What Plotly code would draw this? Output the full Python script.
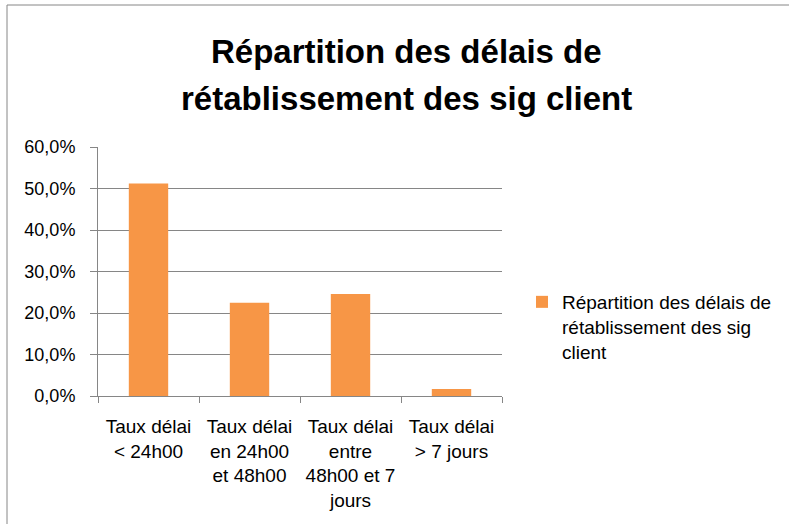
import plotly.graph_objects as go

categories = [
    "Taux délai<br>&lt; 24h00",
    "Taux délai<br>en 24h00<br>et 48h00",
    "Taux délai<br>entre<br>48h00 et 7<br>jours",
    "Taux délai<br>&gt; 7 jours",
]
values = [0.512, 0.225, 0.246, 0.017]
series_name = "Répartition des délais de<br>rétablissement des sig<br>client"
title_lines = ["Répartition des délais de", "rétablissement des sig client"]
y_ticks = [0, 0.1, 0.2, 0.3, 0.4, 0.5, 0.6]

W, H = 789, 524
L, R, T, B = 98, 287, 147, 128
pw, ph = W - L - R, H - T - B

def px_x(p):
    return (p - L) / pw

def px_y(p):
    return (H - B - p) / ph

font_fam = "Liberation Sans, Arial, sans-serif"
grid = "#868686"

fig = go.Figure()
fig.add_trace(go.Bar(
    x=categories, y=values, name=series_name,
    marker=dict(color="#F79646", line=dict(width=0)),
    showlegend=True,
))

title_centers = [52, 98]
annotations = [
    dict(
        text="<b>" + line + "</b>", xref="paper", yref="paper",
        x=px_x(406), y=px_y(cy), xanchor="center", yanchor="middle",
        showarrow=False,
        font=dict(family=font_fam, size=33, color="black"),
    )
    for line, cy in zip(title_lines, title_centers)
]

fig.update_layout(
    width=W, height=H,
    margin=dict(l=L, r=R, t=T, b=B),
    paper_bgcolor="white", plot_bgcolor="white",
    separators=", ",
    bargap=0.61,
    font=dict(family=font_fam, size=18, color="black"),
    annotations=annotations,
    xaxis=dict(
        type="category",
        showline=True, linecolor=grid, linewidth=1,
        ticks="outside", tickson="boundaries", ticklen=6, tickcolor=grid,
        showgrid=False,
        ticklabelstandoff=13,
        tickfont=dict(family=font_fam, size=19, color="black"),
    ),
    yaxis=dict(
        range=[0, 0.6],
        tickvals=y_ticks, tickformat=".1%",
        showline=True, linecolor=grid, linewidth=1,
        ticks="outside", ticklen=7, tickcolor=grid,
        showgrid=True, gridcolor=grid, gridwidth=1,
        zeroline=False,
        ticklabelstandoff=11,
        tickfont=dict(family=font_fam, size=18, color="black"),
    ),
    legend=dict(
        x=px_x(522), y=px_y(283), xanchor="left", yanchor="top",
        valign="top",
        font=dict(family=font_fam, size=19, color="black"),
        bgcolor="rgba(0,0,0,0)",
    ),
    shapes=[dict(
        type="rect", xref="paper", yref="paper",
        x0=px_x(7), x1=px_x(820), y0=px_y(560), y1=px_y(5),
        line=dict(color=grid, width=1), fillcolor="rgba(0,0,0,0)",
        layer="below",
    )],
)

fig.write_html(
    "out.html",
    config={"displayModeBar": False},
    post_script="document.body.style.margin='0';document.body.style.overflow='hidden';",
)
